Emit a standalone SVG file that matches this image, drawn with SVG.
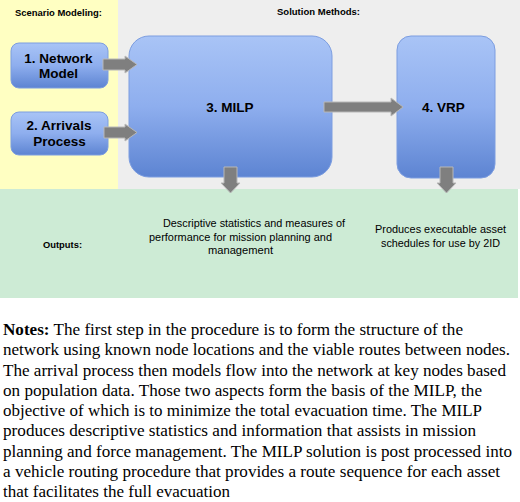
<svg xmlns="http://www.w3.org/2000/svg" width="520" height="502" viewBox="0 0 520 502">
<defs>
<linearGradient id="blue" x1="0" y1="0" x2="0" y2="1">
<stop offset="0" stop-color="#a9c4f6"/>
<stop offset="0.5" stop-color="#8eaeee"/>
<stop offset="1" stop-color="#5d84d2"/>
</linearGradient>
<style>
.box{fill:url(#blue);stroke:#7c9de0;stroke-width:1}
.arr{fill:#7f7f7f;stroke:#b8b8b8;stroke-width:1}
.hdr{font-family:"Liberation Sans",Arial,sans-serif;font-weight:bold;font-size:9.5px;fill:#000}
.nt{font-family:"Liberation Sans",Arial,sans-serif;font-weight:bold;font-size:13.5px;fill:#000;text-anchor:middle}
.ot{font-family:"Liberation Sans",Arial,sans-serif;font-size:10.8px;fill:#000}
.notes{font-family:"Liberation Serif","Times New Roman",serif;font-size:16.3px;fill:#000}
</style>
</defs>
<rect x="0" y="0" width="520" height="502" fill="#ffffff"/>
<rect x="0" y="0" width="118" height="189" fill="#ffffc2"/>
<rect x="118" y="0" width="402" height="189" fill="#eeeeee"/>
<rect x="0" y="189" width="518" height="109" fill="#cdebd5"/>
<text class="hdr" x="15" y="16" textLength="87" lengthAdjust="spacingAndGlyphs">Scenario Modeling:</text>
<text class="hdr" x="277" y="15" textLength="83" lengthAdjust="spacingAndGlyphs">Solution Methods:</text>
<text class="hdr" x="43" y="248" textLength="39" lengthAdjust="spacingAndGlyphs">Outputs:</text>
<g id="node1"><rect class="box" x="11" y="43" width="97" height="45" rx="8"/>
<text class="nt" x="58.5" y="63">1. Network</text><text class="nt" x="58.5" y="78">Model</text></g>
<g id="node2"><rect class="box" x="11" y="112" width="97" height="43" rx="8"/>
<text class="nt" x="59" y="130">2. Arrivals</text><text class="nt" x="59.5" y="146">Process</text></g>
<g id="node3"><rect class="box" x="129" y="36" width="203" height="141" rx="20"/>
<text class="nt" x="230" y="112">3. MILP</text></g>
<g id="node4"><rect class="box" x="397" y="36" width="98" height="142" rx="14"/>
<text class="nt" x="443.5" y="112">4. VRP</text></g>
<g id="connectors">
<path class="arr" d="M103,59 H125 V56 L137,64.5 L125,73 V70 H103 Z"/>
<path class="arr" d="M104,127 H125 V124 L137,132.5 L125,141 V138 H104 Z"/>
<path class="arr" d="M324,102 H391 V98 L403,107 L391,116 V112 H324 Z"/>
<path class="arr" d="M224,167 V183 H221 L230.5,193 L240,183 H237 V167 Z"/>
<path class="arr" d="M440,167 V183 H437 L446.5,193 L456,183 H453 V167 Z"/>
</g>
<g id="out1"><text class="ot" x="163" y="227" textLength="182" lengthAdjust="spacingAndGlyphs">Descriptive statistics and measures of</text>
<text class="ot" x="149" y="241" textLength="183" lengthAdjust="spacingAndGlyphs">performance for mission planning and</text>
<text class="ot" x="208" y="254" textLength="65" lengthAdjust="spacingAndGlyphs">management</text></g>
<g id="out2"><text class="ot" x="375" y="233" textLength="131" lengthAdjust="spacingAndGlyphs">Produces executable asset</text>
<text class="ot" x="381" y="247" textLength="119" lengthAdjust="spacingAndGlyphs">schedules for use by 2ID</text></g>
<g id="notes" class="notes">
<text x="3" y="335" textLength="460" lengthAdjust="spacingAndGlyphs"><tspan font-weight="bold">Notes:</tspan> The first step in the procedure is to form the structure of the</text>
<text x="3" y="355.3" textLength="507" lengthAdjust="spacingAndGlyphs">network using known node locations and the viable routes between nodes.</text>
<text x="3" y="375.5" textLength="503" lengthAdjust="spacingAndGlyphs">The arrival process then models flow into the network at key nodes based</text>
<text x="3" y="395.8" textLength="479" lengthAdjust="spacingAndGlyphs">on population data. Those two aspects form the basis of the MILP, the</text>
<text x="3" y="416" textLength="479" lengthAdjust="spacingAndGlyphs">objective of which is to minimize the total evacuation time. The MILP</text>
<text x="3" y="436.3" textLength="473" lengthAdjust="spacingAndGlyphs">produces descriptive statistics and information that assists in mission</text>
<text x="3" y="456.5" textLength="509" lengthAdjust="spacingAndGlyphs">planning and force management. The MILP solution is post processed into</text>
<text x="3" y="476.8" textLength="497" lengthAdjust="spacingAndGlyphs">a vehicle routing procedure that provides a route sequence for each asset</text>
<text x="3" y="497" textLength="227" lengthAdjust="spacingAndGlyphs">that facilitates the full evacuation</text>
</g>
</svg>
